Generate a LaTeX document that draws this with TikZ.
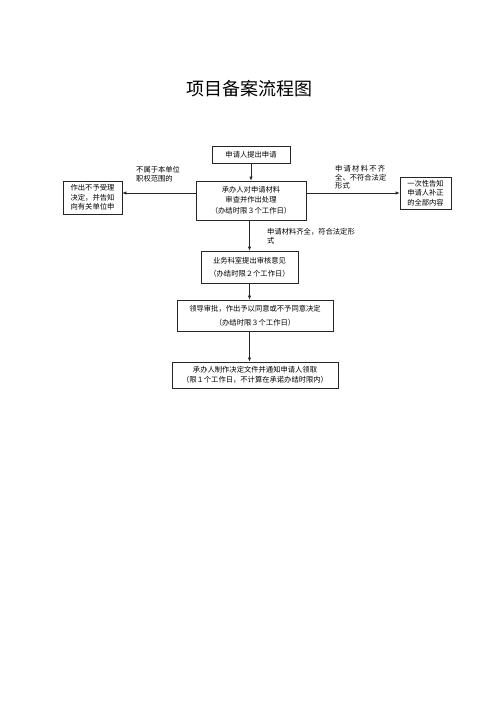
\documentclass[tikz,border=0pt]{standalone}
\usepackage{fontspec}
\setmainfont{Noto Sans CJK SC}
\newfontfamily\cjk{Noto Sans CJK SC}
\usetikzlibrary{arrows.meta}
\tikzset{
  box/.style={draw=black!85, line width=0.6pt, inner sep=0pt, align=center,
    font=\cjk\fontsize{7.3}{9.5}\selectfont},
  lbl/.style={inner sep=0pt, align=left, anchor=north west,
    font=\cjk\fontsize{7.3}{8.8}\selectfont},
  arr/.style={draw=black!85, line width=0.6pt, -{Latex[length=4pt,width=3.2pt]}}
}
\begin{document}
\begin{tikzpicture}[x=1pt,y=-1pt]
\useasboundingbox (0,0) rectangle (500,707);
\node[inner sep=0pt, font=\cjk\fontsize{18}{20}\selectfont] (title) at (249,89) {项目备案流程图};

\node[box, minimum width=78, minimum height=17] (b1) at (251,155) {申请人提出申请};
\node[box, minimum width=110, minimum height=39] (b2) at (251,200.5)
  {承办人对申请材料\\审查并作出处理\\[1.5pt]（办结时限３个工作日）};
\node[box, minimum width=59, minimum height=33] (lb) at (92.5,197.5)
  {作出不予受理\\决定，并告知\\向有关单位申};
\node[box, minimum width=51, minimum height=32] (rb) at (425.5,193)
  {一次性告知\\申请人补正\\的全部内容};
\node[box, minimum width=97, minimum height=32] (b3) at (249.5,267)
  {业务科室提出审核意见\\[4pt]（办结时限２个工作日）};
\node[box, minimum width=156, minimum height=31] (b4) at (255,315.5)
  {领导审批，作出予以同意或不予同意决定\\[4pt]（办结时限３个工作日）};
\node[box, minimum width=166, minimum height=26] (b5) at (255,375)
  {承办人制作决定文件并通知申请人领取\\（限１个工作日，不计算在承诺办结时限内）};

\node[lbl] (l1) at (136,166) {不属于本单位\\职权范围的};
\node[lbl] (l2) at (335,165) {申\,请\,材\,料\,不\,齐\\全、不符合法定\\形式};
\node[lbl] (l3) at (267,228) {申请材料齐全，符合法定形\\式};

\draw[arr] (b1.south) -- (b1.south |- b2.north);
\draw[arr] ([yshift=7.5pt]b2.west) -- ([yshift=7.5pt]b2.west -| lb.east);
\draw[arr] ([yshift=7.5pt]b2.east) -- ([yshift=7.5pt]b2.east -| rb.west);
\draw[arr] (b3.north |- b2.south) -- (b3.north);
\draw[arr] (b3.south) -- (b3.south |- b4.north);
\draw[arr] (b3.south |- b4.south) -- (b3.south |- b5.north);
\end{tikzpicture}
\end{document}
